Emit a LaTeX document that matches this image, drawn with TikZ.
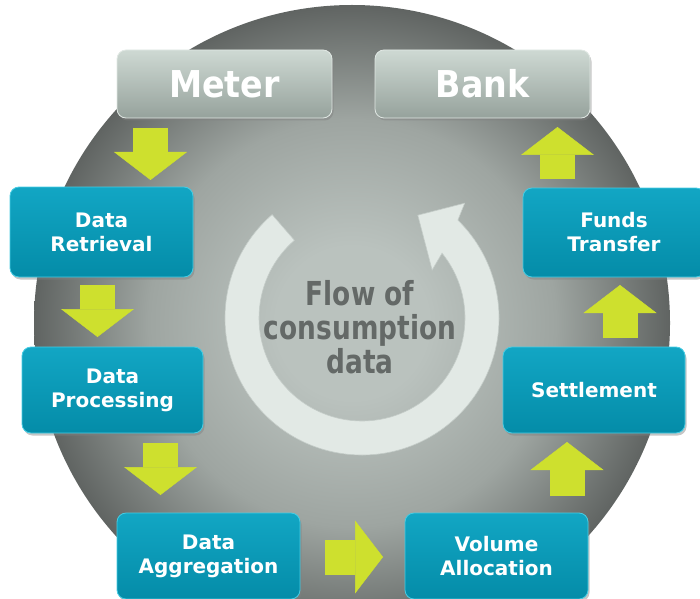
\documentclass[tikz,border=0pt]{standalone}
\usepackage{fontspec}
\setmainfont{DejaVu Sans}
\newfontfamily\flowfont[FakeStretch=0.8]{DejaVu Sans}
\newfontfamily\endsfont[FakeStretch=0.9]{DejaVu Sans}
\usetikzlibrary{arrows.meta,shadows,calc}
\definecolor{tealtop}{RGB}{18,166,196}
\definecolor{tealbot}{RGB}{4,140,168}
\definecolor{tealedge}{RGB}{70,205,228}
\definecolor{greytop}{RGB}{206,217,211}
\definecolor{greybot}{RGB}{150,162,156}
\definecolor{greyedge}{RGB}{225,232,228}
\definecolor{arrowgreen}{RGB}{206,224,46}
\definecolor{ringfill}{RGB}{226,233,229}
\definecolor{ringedge}{RGB}{196,204,200}
\definecolor{flowtext}{RGB}{100,105,103}
\definecolor{discin}{RGB}{186,194,190}
\definecolor{discmid}{RGB}{158,165,161}
\definecolor{discout}{RGB}{96,100,98}
\pgfdeclareradialshading{disc}{\pgfpoint{0bp}{0bp}}{color(0bp)=(discin); color(6bp)=(discin); color(16bp)=(discmid); color(25bp)=(discout); color(50bp)=(discout)}

\begin{document}
\begin{tikzpicture}[x=1pt, y=1pt,
    stage/.style={rounded corners=9pt, top color=tealtop, bottom color=tealbot,
      draw=tealedge, line width=0.8pt,
      drop shadow={opacity=0.45, shadow xshift=1.5pt, shadow yshift=-2.5pt},
      text=white, align=center, inner sep=0pt, minimum width=183pt, minimum height=86pt,
      font=\fontsize{20}{24}\selectfont\bfseries},
    endpoint/.style={stage, top color=greytop, bottom color=greybot, draw=greyedge,
      minimum width=215pt, minimum height=68pt, font=\endsfont\fontsize{37}{40}\selectfont\bfseries},
    flow/.style={draw=arrowgreen, line width=35pt,
      -{Triangle[width=73pt, length=28pt, line width=0.5pt, fill=arrowgreen]}}]
    \useasboundingbox (0,0) rectangle (700,598);
    \shade[shading=disc] (352,275) circle (318);

    \coordinate (c) at (362,280);
    \filldraw[fill=ringfill, draw=ringedge, line width=0.6pt]
      ($(c)+(131:137)$) arc[start angle=131, end angle=405.6, radius=137]
      -- ($(c)+(48.2:154)$) -- ($(c)+(61.5:117)$) -- ($(c)+(34.4:85)$)
      -- ($(c)+(39:103)$) arc[start angle=399, end angle=131, radius=103] -- cycle;
    \node[font=\flowfont\fontsize{33}{34}\selectfont\bfseries, text=flowtext, align=center]
      (F) at (360,271) {Flow of\\consumption\\data};

    \node[endpoint] (M) at (224.5,514) {Meter};
    \node[endpoint] (B) at (482.5,514) {Bank};
    \node[stage, minimum height=90pt] (DR) at (101.5,366) {Data\\Retrieval};
    \node[stage, minimum width=181pt] (DP) at (112.5,208) {Data\\Processing};
    \node[stage] (DA) at (208.5,42) {Data\\Aggregation};
    \node[stage] (VA) at (496.5,42) {Volume\\Allocation};
    \node[stage, minimum width=182pt] (S) at (594,208) {Settlement};
    \node[stage, minimum width=182pt, minimum height=89pt] (FT) at (614,365.5) {Funds\\Transfer};

    \coordinate (a1) at (150.5,470); \coordinate (b1) at (150.5,418);
    \coordinate (a2) at (97.5,313);  \coordinate (b2) at (97.5,261);
    \coordinate (a3) at (160.5,155); \coordinate (b3) at (160.5,103);
    \coordinate (a4) at (325,41);    \coordinate (b4) at (383,41);
    \coordinate (a5) at (567,102);   \coordinate (b5) at (567,156);
    \coordinate (a6) at (620,260);   \coordinate (b6) at (620,313);
    \coordinate (a7) at (557.5,419); \coordinate (b7) at (557.5,471);
    \draw[flow] (a1) -- (b1);
    \draw[flow] (a2) -- (b2);
    \draw[flow] (a3) -- (b3);
    \draw[flow] (a4) -- (b4);
    \draw[flow] (a5) -- (b5);
    \draw[flow] (a6) -- (b6);
    \draw[flow] (a7) -- (b7);
\end{tikzpicture}
\end{document}
